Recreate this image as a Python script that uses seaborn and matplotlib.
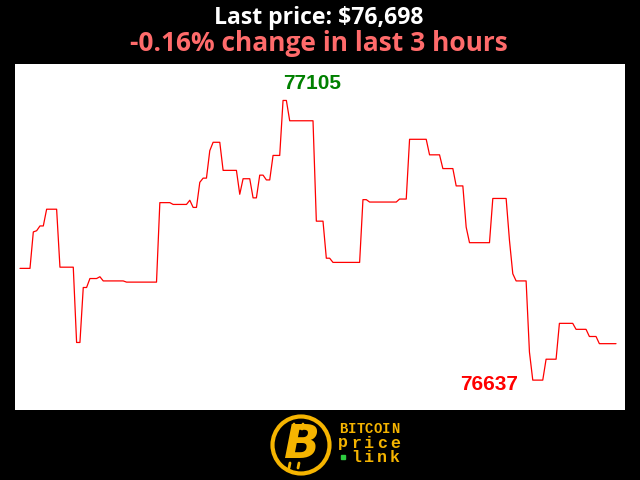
import matplotlib
matplotlib.use("Agg")
import matplotlib.pyplot as plt
import seaborn as sns
from matplotlib.patches import Circle

# One price per minute over the last 3 hours
prices = [
    76824, 76824, 76824, 76824,
    76885, 76887, 76895, 76895,
    76923, 76923, 76923, 76923,
    76826, 76826, 76826, 76826, 76826,
    76700, 76700,
    76792, 76792,
    76807, 76807, 76807, 76810,
    76803, 76803, 76803, 76803, 76803, 76803, 76803,
    76801, 76801, 76801, 76801, 76801, 76801, 76801, 76801, 76801, 76801,
    76934, 76934, 76934, 76934,
    76931, 76931, 76931, 76931, 76931,
    76938, 76926, 76926, 76968, 76975, 76975, 77021, 77035, 77035, 77035,
    76988, 76988, 76988, 76988, 76988,
    76948, 76974, 76974, 76974, 76942, 76942, 76980, 76980, 76972, 76972,
    77013, 77013, 77013, 77105, 77105,
    77071, 77071, 77071, 77071, 77071, 77071, 77071, 77071,
    76903, 76903, 76903, 76841, 76841,
    76834, 76834, 76834, 76834, 76834, 76834, 76834, 76834, 76834,
    76939, 76939,
    76935, 76935, 76935, 76935, 76935, 76935, 76935, 76935, 76935,
    76940, 76940, 76940,
    77040, 77040, 77040, 77040, 77040, 77040,
    77014, 77014, 77014, 77014,
    76991, 76991, 76991, 76991,
    76962, 76962, 76962,
    76893,
    76867, 76867, 76867, 76867, 76867, 76867, 76867,
    76941, 76941, 76941, 76941, 76941,
    76871, 76815,
    76803, 76803, 76803, 76803,
    76684,
    76637, 76637, 76637, 76637,
    76672, 76672, 76672, 76672,
    76732, 76732, 76732, 76732, 76732,
    76722, 76722, 76722, 76722,
    76710, 76710, 76710,
    76698, 76698, 76698, 76698, 76698, 76698,
]
minutes = list(range(len(prices)))

title_text = "Last price: $76,698"
subtitle_text = "-0.16% change in last 3 hours"
logo_words = ["BITCOIN", "price", "link"]

sns.set_style("white")
plt.rcParams['font.family'] = ['Open Sans', 'DejaVu Sans']

fig = plt.figure(figsize=(6.4, 4.8), dpi=100, facecolor="black")

# overlay in pixel coordinates for the logo
over = fig.add_axes([0, 0, 1, 1])
over.set_xlim(0, 640)
over.set_ylim(480, 0)
over.axis("off")
over.patch.set_alpha(0)

ax = fig.add_axes([15 / 640, 1 - 410 / 480, 610 / 640, 346 / 480])
sns.lineplot(x=minutes, y=prices, ax=ax, color="red", linewidth=0.9)
ax.set_xlim(-1.5, 181.7)
ax.set_ylim(76587, 77166)
ax.set_facecolor("white")
for s in ax.spines.values():
    s.set_visible(False)
ax.set_xticks([])
ax.set_yticks([])
ax.set_xlabel("")
ax.set_ylabel("")

hi = max(prices)
lo = min(prices)
ax.text(87.7, 77134, str(hi), color="green", fontsize=15, fontweight="bold",
        family="Liberation Sans", ha="center", va="center")
ax.text(140.9, 76630, str(lo), color="red", fontsize=15, fontweight="bold",
        family="Liberation Sans", ha="center", va="center")

fig.text(319 / 640, 1 - 17.5 / 480, title_text, color="white", fontsize=16.6,
         fontweight="bold", ha="center", va="center")
fig.text(319 / 640, 1 - 43.5 / 480, subtitle_text, color="#ff6b6b", fontsize=19,
         fontweight="bold", ha="center", va="center")

# logo
gold = "#f5b400"
over.add_patch(Circle((301, 445), 28.5, fill=False, edgecolor=gold, linewidth=3))
over.text(302, 446, "B", color=gold, fontsize=34, fontweight="heavy",
          family="DejaVu Sans", style="italic", ha="center", va="center")
for tx in (294, 303):
    over.plot([tx, tx - 1], [424, 429], color=gold, linewidth=2)
    over.plot([tx - 4, tx - 5], [463, 468], color=gold, linewidth=2)

ys = [429, 443, 457]
for word, yy in zip(logo_words, ys):
    x0, x1 = 343, 395
    n = len(word) if word != "link" else 5
    step = (x1 - x0) / (n - 1)
    chars = list(word) if word != "link" else [None] + list(word)
    for k, ch in enumerate(chars):
        if ch is None:
            over.add_patch(plt.Rectangle((x0 - 2, yy - 2), 4, 4, color="#2ecc40"))
            continue
        size = 10 if word == "BITCOIN" else 12
        over.text(x0 + k * step, yy, ch, color=gold, fontsize=size,
                  fontweight="bold", family="Liberation Mono",
                  ha="center", va="center")

fig.savefig("out.png", dpi=100, facecolor="black")
